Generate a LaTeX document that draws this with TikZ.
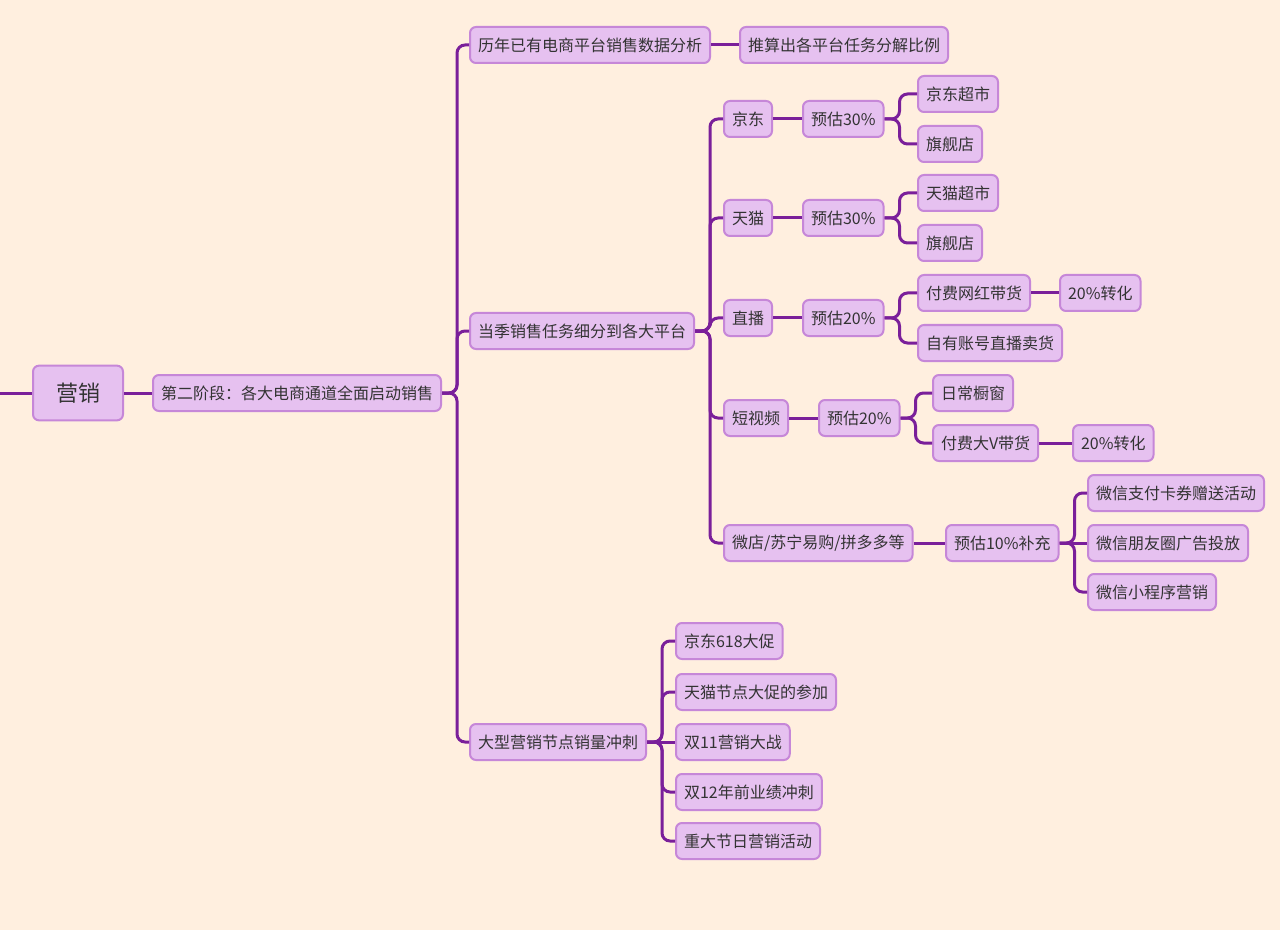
\documentclass[tikz,border=0pt]{standalone}
\usepackage{fontspec}
\newfontfamily\cjk{Noto Sans CJK SC}
\definecolor{bgcream}{HTML}{FFEFDF}
\definecolor{boxfill}{HTML}{E6C1F0}
\definecolor{boxline}{HTML}{C687D8}
\definecolor{linkpurple}{HTML}{7A1F9A}
\definecolor{txtgray}{HTML}{333333}

\begin{document}
\begin{tikzpicture}[
	x=0.75pt, y=-0.75pt,
	topic/.style={ anchor=west, draw=boxline, line width=1.5pt, fill=boxfill, rounded corners=4.5pt, text=txtgray, font=\cjk\fontsize{12}{14}\selectfont, minimum height=27pt, inner xsep=6pt },
	rootbox/.style={ topic, font=\cjk\fontsize{16.5}{19}\selectfont, minimum height=41pt, minimum width=67.5pt },
	link/.style={ draw=linkpurple, line width=2.25pt, rounded corners=6pt,
		to path={(\tikztostart.east) -- ([xshift=11.25pt]\tikztostart.east) |- (\tikztotarget.west)} },
	linkstr/.style={ draw=linkpurple, line width=2.25pt,
		to path={(\tikztostart.east) -- (\tikztotarget.west)} }
]

\fill[bgcream] (0,0) rectangle (1280,930);
\useasboundingbox (0,0) rectangle (1280,930);

\coordinate (lft) at (0,393);

\node at (32,393) (root) [rootbox] {营销};
\draw[linkstr] (lft) -- (root);

\node at (152,393) (stage) [topic] {第二阶段：各大电商通道全面启动销售};
\draw[linkstr] (root) to (stage);

% first level
\node at (469,45) (hist) [topic] {历年已有电商平台销售数据分析};
\node at (469,331) (plat) [topic] {当季销售任务细分到各大平台};
\node at (469,742) (promo) [topic] {大型营销节点销量冲刺};
\foreach \p in {hist,plat,promo} \draw[link] (stage) to (\p);

\node at (739,45) (ratio) [topic] {推算出各平台任务分解比例};
\draw[linkstr] (hist) to (ratio);

% platforms
\node at (723,119) (jd) [topic] {京东};
\node at (723,218) (tm) [topic] {天猫};
\node at (723,318) (live) [topic] {直播};
\node at (723,418) (short) [topic] {短视频};
\node at (723,543) (other) [topic] {微店/苏宁易购/拼多多等};
\foreach \p in {jd,tm,live,short,other} \draw[link] (plat) to (\p);

\node at (802,119) (jdest) [topic] {预估30\%};
\draw[linkstr] (jd) to (jdest);
\node at (917,94) (jdcs) [topic] {京东超市};
\node at (917,144) (jdqj) [topic] {旗舰店};
\foreach \p in {jdcs,jdqj} \draw[link] (jdest) to (\p);

\node at (802,218) (tmest) [topic] {预估30\%};
\draw[linkstr] (tm) to (tmest);
\node at (917,193) (tmcs) [topic] {天猫超市};
\node at (917,243) (tmqj) [topic] {旗舰店};
\foreach \p in {tmcs,tmqj} \draw[link] (tmest) to (\p);

\node at (802,318) (liveest) [topic] {预估20\%};
\draw[linkstr] (live) to (liveest);
\node at (917,293) (livepaid) [topic] {付费网红带货};
\node at (917,343) (liveown) [topic] {自有账号直播卖货};
\foreach \p in {livepaid,liveown} \draw[link] (liveest) to (\p);
\node at (1059,293) (liveconv) [topic] {20\%转化};
\draw[linkstr] (livepaid) to (liveconv);

\node at (818,418) (shortest) [topic] {预估20\%};
\draw[linkstr] (short) to (shortest);
\node at (932,393) (shortwin) [topic] {日常橱窗};
\node at (932,443) (shortpaid) [topic] {付费大V带货};
\foreach \p in {shortwin,shortpaid} \draw[link] (shortest) to (\p);
\node at (1072,443) (shortconv) [topic] {20\%转化};
\draw[linkstr] (shortpaid) to (shortconv);

\node at (945,543) (otherest) [topic] {预估10\%补充};
\draw[linkstr] (other) to (otherest);
\node at (1087,493) (wxpay) [topic] {微信支付卡券赠送活动};
\node at (1087,543) (wxad) [topic] {微信朋友圈广告投放};
\node at (1087,592) (wxapp) [topic] {微信小程序营销};
\foreach \p in {wxpay,wxapp} \draw[link] (otherest) to (\p);
\draw[linkstr] (otherest) to (wxad);

% promotion nodes
\node at (675,641) (jd618) [topic] {京东618大促};
\node at (675,692) (tmnode) [topic] {天猫节点大促的参加};
\node at (675,742) (d11) [topic] {双11营销大战};
\node at (675,792) (d12) [topic] {双12年前业绩冲刺};
\node at (675,841) (fest) [topic] {重大节日营销活动};
\foreach \p in {jd618,tmnode,d12,fest} \draw[link] (promo) to (\p);
\draw[linkstr] (promo) to (d11);

\end{tikzpicture}
\end{document}
